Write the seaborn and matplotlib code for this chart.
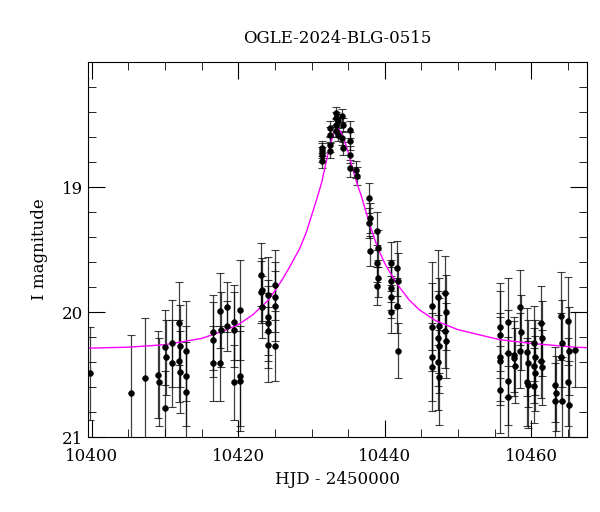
import numpy as np
import pandas as pd
import matplotlib
matplotlib.use("Agg")
import matplotlib.pyplot as plt
import seaborn as sns
from matplotlib.ticker import MultipleLocator, FixedLocator

# observations: (time, list of magnitudes, error)
groups = [
    (10399.7, [20.49], 0.37), (10405.3, [20.65], 0.47), (10407.2, [20.53], 0.48),
    (10409.0, [20.50], 0.35), (10409.2, [20.56], 0.35),
    (10410.0, [20.28, 20.36, 20.77], 0.30), (10410.9, [20.25, 20.41], 0.35),
    (10411.9, [20.09, 20.27, 20.39, 20.48], 0.33), (10412.8, [20.31, 20.51, 20.64], 0.40),
    (10416.5, [20.16, 20.22, 20.41], 0.30), (10417.5, [19.99, 20.14, 20.41], 0.30),
    (10418.4, [19.96, 20.11], 0.20), (10419.4, [20.08, 20.14, 20.56], 0.30),
    (10420.2, [19.98, 20.51, 20.55], 0.40),
    (10423.1, [19.70, 19.82, 19.84, 19.96], 0.25), (10424.0, [19.86, 20.04, 20.09, 20.15, 20.26], 0.30),
    (10425.0, [19.78, 19.88, 19.95, 20.27], 0.28),
    (10431.4, [18.69, 18.74, 18.79, 18.71], 0.06), (10432.5, [18.53, 18.58, 18.66, 18.71], 0.06),
    (10433.3, [18.41, 18.45, 18.50, 18.55], 0.05), (10433.6, [18.47, 18.58], 0.05),
    (10434.2, [18.43, 18.50, 18.61, 18.69], 0.05), (10435.2, [18.54, 18.63, 18.74, 18.85], 0.07),
    (10436.1, [18.86, 18.91], 0.07),
    (10437.9, [19.09, 19.25, 19.29, 19.51], 0.12), (10439.0, [19.35, 19.49, 19.61, 19.73, 19.79], 0.15),
    (10440.8, [19.61, 19.75, 19.81, 19.88, 20.00], 0.17), (10441.7, [19.65, 19.75, 19.95, 20.31], 0.22),
    (10446.4, [19.95, 20.12, 20.36, 20.44], 0.35), (10447.3, [19.88, 20.11, 20.21, 20.27, 20.40, 20.52], 0.38),
    (10448.3, [19.85, 20.00, 20.15, 20.23], 0.30),
    (10455.7, [20.18, 20.12, 20.36, 20.39, 20.62], 0.35), (10456.8, [20.08, 20.33, 20.55, 20.68], 0.35),
    (10457.7, [20.34, 20.43, 20.37], 0.30), (10458.5, [19.96, 20.16, 20.31], 0.30),
    (10459.5, [20.32, 20.41, 20.56, 20.58], 0.35), (10460.4, [20.25, 20.36, 20.43, 20.49, 20.59], 0.30),
    (10461.4, [20.09, 20.21, 20.39, 20.44], 0.30), (10463.3, [20.58, 20.65, 20.71], 0.30),
    (10464.1, [20.03, 20.25, 20.36, 20.71], 0.35), (10465.1, [20.07, 20.31, 20.56, 20.74], 0.35),
    (10466.0, [20.30], 0.30),
]
model_t = [10398, 10405, 10410, 10415, 10418, 10420, 10422, 10424, 10425, 10426, 10427, 10428.4,
           10429.3, 10430, 10430.7, 10431.4, 10432, 10432.6, 10433.1, 10433.5, 10433.9, 10434.4,
           10435, 10435.6, 10436.2, 10436.8, 10437.9, 10439, 10440, 10441, 10442, 10443.3, 10444.7,
           10447, 10450, 10455.7, 10460, 10466, 10470]
model_m = [20.29, 20.28, 20.26, 20.21, 20.15, 20.10, 20.02, 19.91, 19.83, 19.74, 19.64, 19.49,
           19.36, 19.23, 19.10, 18.96, 18.80, 18.65, 18.56, 18.53, 18.55, 18.61,
           18.72, 18.85, 18.97, 19.07, 19.29, 19.48, 19.61, 19.71, 19.80, 19.90, 19.98,
           20.07, 20.14, 20.22, 20.25, 20.28, 20.29]

rows = []
for t, ms, e in groups:
    for k, m in enumerate(ms):
        rows.append((t + 0.08 * (k % 2), m, e))
df = pd.DataFrame(rows, columns=["t", "mag", "err"])
mdf = pd.DataFrame({"t": model_t, "mag": model_m})

plt.rcParams["font.family"] = "DejaVu Serif"
fig = plt.figure(figsize=(6, 5.12), dpi=100)
ax = fig.add_axes([0.147, 0.146, 0.831, 0.733])
ax.errorbar(df["t"], df["mag"], yerr=df["err"], fmt="none", ecolor="black",
            elinewidth=0.9, capsize=3, capthick=0.8, alpha=0.75)
sns.lineplot(data=mdf, x="t", y="mag", color="magenta", lw=1, ax=ax)
sns.scatterplot(data=df, x="t", y="mag", color="black", s=18, edgecolor="black", ax=ax, zorder=5)
ax.set_xlim(10399.5, 10467.6)
ax.set_ylim(21, 18)
ax.xaxis.set_major_locator(MultipleLocator(20))
ax.xaxis.set_minor_locator(MultipleLocator(5))
ax.yaxis.set_major_locator(FixedLocator([19, 20, 21]))
ax.yaxis.set_minor_locator(MultipleLocator(0.2))
ax.tick_params(which="both", direction="in", top=True, right=True, labelsize=12)
ax.tick_params(which="major", length=12)
ax.tick_params(which="minor", length=6)
ax.tick_params(axis="x", pad=8)
ax.set_xlabel("HJD - 2450000", fontsize=12)
ax.set_ylabel("I magnitude", fontsize=12, labelpad=10)
ax.set_title("OGLE-2024-BLG-0515", fontsize=12, pad=14)
fig.savefig("out.png")
